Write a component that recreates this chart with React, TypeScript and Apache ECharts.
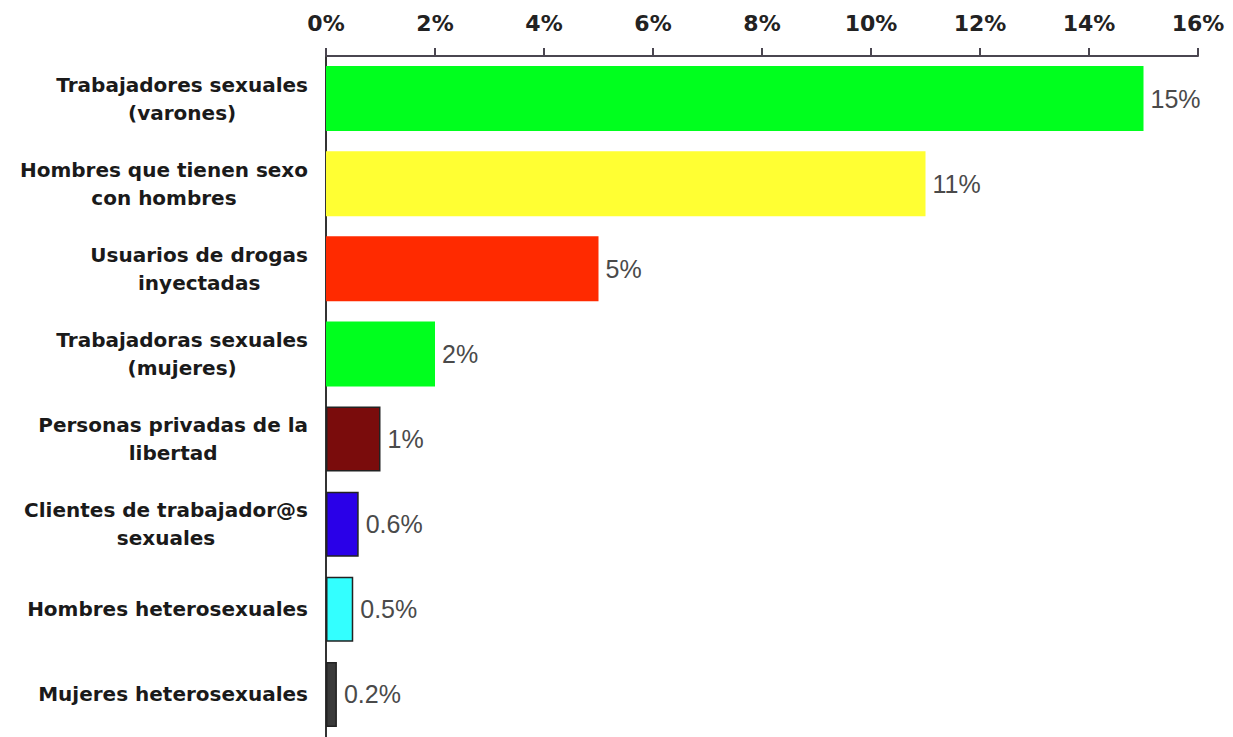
import React, { useEffect, useRef } from "react";
import * as echarts from "echarts";

const categories = [
  "Trabajadores sexuales\n(varones)",
  "Hombres que tienen sexo\ncon hombres",
  "Usuarios de drogas\ninyectadas",
  "Trabajadoras sexuales\n(mujeres)",
  "Personas privadas de la\nlibertad",
  "Clientes de trabajador@s\nsexuales",
  "Hombres heterosexuales",
  "Mujeres heterosexuales",
];
const values = [15, 11, 5, 2, 1, 0.6, 0.5, 0.2];
const valueLabels = ["15%", "11%", "5%", "2%", "1%", "0.6%", "0.5%", "0.2%"];
const barColors = ["#00ff1e", "#ffff33", "#ff2a00", "#00ff1e", "#7a0c0c", "#2a00e8", "#33ffff", "#3a3a3a"];
const barBorders = [false, false, false, false, true, true, true, true];
const axisMin = 0;
const axisMax = 16;
const axisStep = 2;

export default function App() {
  const ref = useRef<HTMLDivElement>(null);
  useEffect(() => {
    if (!ref.current) return;
    const chart = echarts.init(ref.current, null, { renderer: "svg" });
    chart.setOption({
      animation: false,
      backgroundColor: "#ffffff",
      grid: { left: 326, right: 35, top: 56, bottom: -4, containLabel: false },
      xAxis: {
        type: "value",
        position: "top",
        min: axisMin,
        max: axisMax,
        interval: axisStep,
        splitLine: { show: false },
        axisLine: { show: true, lineStyle: { color: "#4a4650", width: 2 } },
        axisTick: { show: true, length: 8, lineStyle: { color: "#4a4650", width: 2 } },
        axisLabel: {
          formatter: "{value}%",
          margin: 22,
          fontFamily: "DejaVu Sans",
          fontWeight: "bold",
          fontSize: 22,
          color: "#222",
        },
      },
      yAxis: {
        type: "category",
        data: categories,
        inverse: true,
        axisLine: { show: true, lineStyle: { color: "#333", width: 2 } },
        axisTick: { show: false },
        axisLabel: {
          margin: 18,
          formatter: (v: string) =>
            v
              .split("\n")
              .map((l) => `{c|${l}}`)
              .join("\n"),
          rich: {
            c: {
              align: "center",
              fontFamily: "DejaVu Sans",
              fontWeight: "bold",
              fontSize: 20,
              lineHeight: 28,
              color: "#1a1a1a",
            },
          },
        },
      },
      series: [
        {
          type: "bar",
          barWidth: 65,
          data: values.map((v, i) => ({
            value: v,
            itemStyle: {
              color: barColors[i],
              borderColor: barBorders[i] ? "#222" : barColors[i],
              borderWidth: barBorders[i] ? 1.5 : 0,
            },
          })),
          label: {
            show: true,
            position: "right",
            distance: 7,
            formatter: (p: any) => valueLabels[p.dataIndex],
            fontFamily: "Liberation Sans",
            fontSize: 25,
            color: "#4a4a4a",
          },
        },
      ],
    });
    return () => chart.dispose();
  }, []);
  return (
    <div
      ref={ref}
      style={{ position: "fixed", left: 0, top: 0, width: 1233, height: 737, background: "#fff" }}
    />
  );
}
